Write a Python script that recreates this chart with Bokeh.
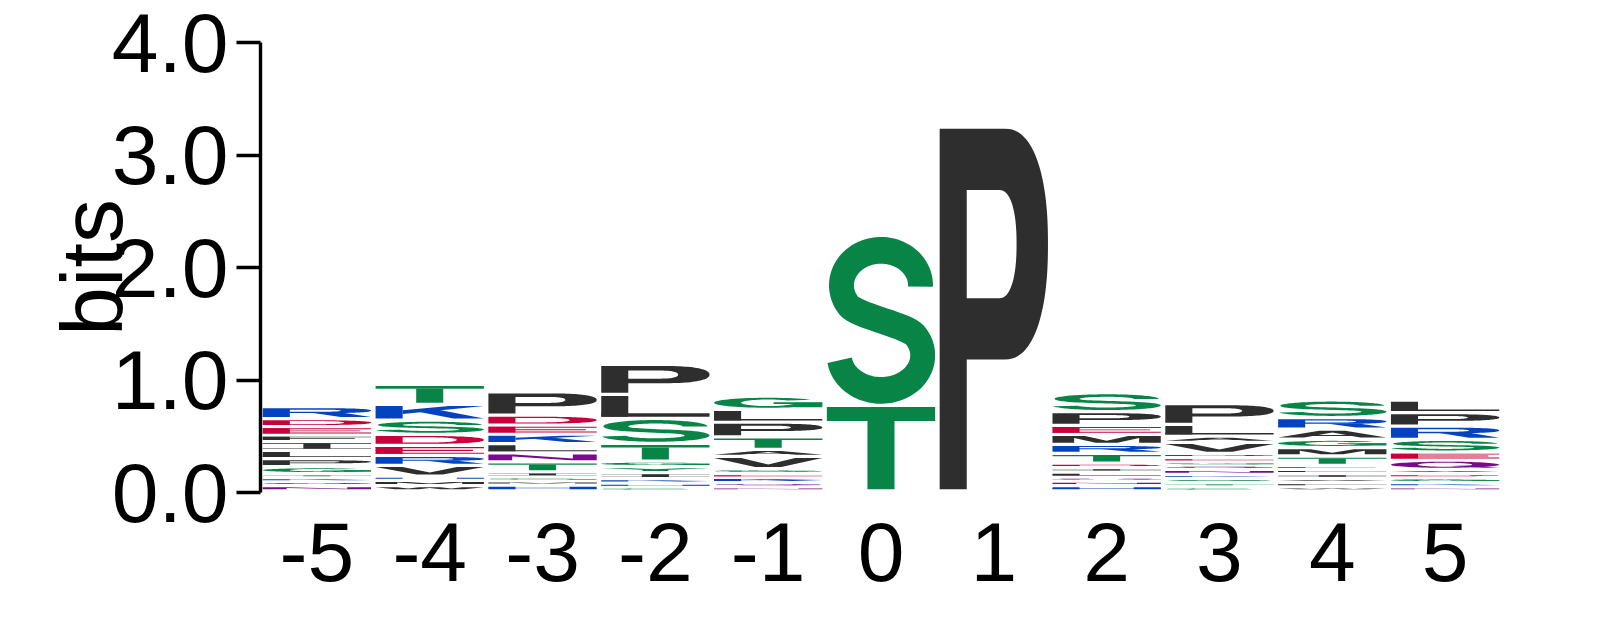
import numpy as np
from bokeh.plotting import figure
from bokeh.models import Range1d, FixedTicker, ColumnDataSource
from bokeh.embed import file_html
from bokeh.resources import INLINE

# ---------------- data ----------------
positions = [-5, -4, -3, -2, -1, 0, 1, 2, 3, 4, 5]
x_tick_labels = ["-5", "-4", "-3", "-2", "-1", "0", "1", "2", "3", "4", "5"]
y_ticks = [0, 1, 2, 3, 4]
y_tick_labels = ["0.0", "1.0", "2.0", "3.0", "4.0"]

# letter stacks, bottom to top, heights in bits
pos_m5_letters = ["N", "Q", "K", "T", "G", "P", "L", "I", "F", "E", "D", "R"]
pos_m5_bits = [0.046, 0.038, 0.033, 0.036, 0.062, 0.071, 0.074, 0.077, 0.059, 0.075, 0.071, 0.107]

pos_m4_letters = ["W", "M", "H", "V", "R", "E", "D", "S", "K", "T"]
pos_m4_bits = [0.047, 0.046, 0.038, 0.095, 0.089, 0.089, 0.098, 0.127, 0.140, 0.178]

pos_m3_letters = ["H", "M", "G", "I", "T", "N", "L", "K", "E", "D", "P"]
pos_m3_bits = [0.052, 0.036, 0.036, 0.044, 0.089, 0.080, 0.084, 0.083, 0.080, 0.089, 0.207]

pos_m2_letters = ["C", "H", "K", "I", "Y", "G", "T", "S", "L", "P"]
pos_m2_bits = [0.035, 0.034, 0.040, 0.053, 0.053, 0.050, 0.157, 0.222, 0.213, 0.267]

pos_m1_letters = ["N", "Q", "K", "E", "S", "V", "A", "T", "P", "L", "G"]
pos_m1_bits = [0.036, 0.037, 0.047, 0.033, 0.044, 0.109, 0.062, 0.113, 0.130, 0.113, 0.118]

pos_0_letters = ["T", "S"]
pos_0_bits = [0.760, 1.511]

pos_1_letters = ["P"]
pos_1_bits = [3.234]

pos_2_letters = ["H", "N", "Q", "L", "I", "D", "T", "R", "M", "E", "P", "S"]
pos_2_bits = [0.047, 0.040, 0.036, 0.044, 0.039, 0.041, 0.086, 0.080, 0.089, 0.080, 0.122, 0.169]

pos_3_letters = ["C", "T", "S", "K", "N", "Q", "G", "E", "D", "V", "A", "L", "P"]
pos_3_bits = [0.035, 0.038, 0.038, 0.036, 0.044, 0.038, 0.030, 0.036, 0.038, 0.098, 0.056, 0.104, 0.184]

pos_4_letters = ["W", "F", "V", "I", "L", "E", "T", "M", "G", "A", "R", "S"]
pos_4_bits = [0.036, 0.037, 0.038, 0.042, 0.038, 0.036, 0.083, 0.075, 0.074, 0.089, 0.104, 0.156]

pos_5_letters = ["N", "K", "G", "D", "A", "Q", "E", "S", "R", "P", "L"]
pos_5_bits = [0.036, 0.037, 0.044, 0.036, 0.038, 0.083, 0.071, 0.113, 0.118, 0.119, 0.112]

stack_letters = [pos_m5_letters, pos_m4_letters, pos_m3_letters, pos_m2_letters, pos_m1_letters,
                 pos_0_letters, pos_1_letters, pos_2_letters, pos_3_letters, pos_4_letters, pos_5_letters]
stack_bits = [pos_m5_bits, pos_m4_bits, pos_m3_bits, pos_m2_bits, pos_m1_bits,
              pos_0_bits, pos_1_bits, pos_2_bits, pos_3_bits, pos_4_bits, pos_5_bits]

# chemistry colour scheme
GREEN, PURPLE, BLUE, RED, BLACK = "#088446", "#7a0a8c", "#0443bf", "#c8003c", "#2e2e2e"
COLORS = {}
for ch in "GSTYC":
    COLORS[ch] = GREEN
for ch in "QN":
    COLORS[ch] = PURPLE
for ch in "KRH":
    COLORS[ch] = BLUE
for ch in "DE":
    COLORS[ch] = RED
for ch in "PAWFLIMV":
    COLORS[ch] = BLACK

# ---------------- letter outlines (unit box) ----------------
SW, BH = 0.25, 0.17


def rect(x0, y0, x1, y1):
    return [(x0, y0), (x1, y0), (x1, y1), (x0, y1)]


def sarea(r):
    a = 0.0
    for i in range(len(r)):
        x0, y0 = r[i]
        x1, y1 = r[(i + 1) % len(r)]
        a += x0 * y1 - x1 * y0
    return a / 2


def orient(r, ccw=True):
    r = list(r)
    if (sarea(r) > 0) != ccw:
        r = r[::-1]
    return r


def earc(cx, cy, rx, ry, a0, a1, n=48, e=2.0):
    t = np.radians(np.linspace(a0, a1, n))
    c, s = np.cos(t), np.sin(t)
    x = cx + rx * np.sign(c) * np.abs(c) ** (2.0 / e)
    y = cy + ry * np.sign(s) * np.abs(s) ** (2.0 / e)
    return list(zip(x, y))


def stroke(path, tx, ty):
    sc = np.array([tx, ty])
    P = np.array(path, dtype=float) / sc
    T = np.gradient(P, axis=0)
    L = np.hypot(T[:, 0], T[:, 1])
    L[L == 0] = 1
    N = np.stack([-T[:, 1] / L, T[:, 0] / L], axis=1)
    left = (P + 0.5 * N) * sc
    right = (P - 0.5 * N) * sc
    return list(map(tuple, left)) + list(map(tuple, right[::-1]))


def comp(ext, *holes):
    return [orient(ext, True)] + [orient(h, False) for h in holes]


def bezier(p0, p1, p2, p3, n=16):
    t = np.linspace(0, 1, n)[1:-1, None]
    p0, p1, p2, p3 = map(np.array, (p0, p1, p2, p3))
    pts = (1 - t) ** 3 * p0 + 3 * (1 - t) ** 2 * t * p1 + 3 * (1 - t) * t ** 2 * p2 + t ** 3 * p3
    return list(map(tuple, pts))


def s_shape():
    tx, ty = 0.23, 0.16
    rx_u, rx_l, ry = 0.5 - tx / 2 - 0.02, 0.5 - tx / 2, 0.21
    top_c = 1 - ty / 2 - ry
    bot_c = ty / 2 + ry
    a_up, a_lo = 215.0, 35.0
    up = earc(0.5, top_c, rx_u, ry, -2, a_up, 70)
    lo = earc(0.5, bot_c, rx_l, ry, a_lo, -172, 70)
    tu = np.array([-np.sin(np.radians(a_up)) * rx_u, np.cos(np.radians(a_up)) * ry])
    tu /= np.hypot(*tu)
    tl = np.array([np.sin(np.radians(a_lo)) * rx_l, -np.cos(np.radians(a_lo)) * ry])
    tl /= np.hypot(*tl)
    p0, p3 = np.array(up[-1]), np.array(lo[0])
    spine = bezier(p0, p0 + 0.1 * tu, p3 - 0.1 * tl, p3, 18)
    return stroke(up + spine + lo, tx, ty)


SHAPES = {
    "T": [comp(rect(0, 1 - BH, 1, 1)), comp(rect(0.5 - SW / 2, 0, 0.5 + SW / 2, 1 - BH + 0.002))],
    "L": [comp(rect(0, 0, SW, 1)), comp(rect(0, 0, 1, BH))],
    "I": [comp(rect(0, 1 - BH * 0.6, 1, 1)), comp(rect(0, 0, 1, BH * 0.6)),
          comp(rect(0.5 - SW / 2, 0, 0.5 + SW / 2, 1))],
    "F": [comp(rect(0, 0, SW, 1)), comp(rect(0, 1 - BH, 1, 1)), comp(rect(0, 0.42, 0.85, 0.42 + BH))],
    "E": [comp(rect(0, 0, SW, 1)), comp(rect(0, 1 - BH, 1, 1)), comp(rect(0, 0.42, 0.9, 0.42 + BH)),
          comp(rect(0, 0, 1, BH))],
    "H": [comp(rect(0, 0, SW, 1)), comp(rect(1 - SW, 0, 1, 1)), comp(rect(0, 0.42, 1, 0.42 + BH))],
    "K": [comp(rect(0, 0, SW, 1)),
          comp([(SW, 0.35), (1.0, 1.0), (0.68, 1.0), (SW, 0.66)]),
          comp([(0.38, 0.55), (0.72, 0.0), (1.0, 0.0), (0.58, 0.70)])],
    "M": [comp([(0, 0), (0.2, 0), (0.2, 0.72), (0.4, 0), (0.6, 0), (0.8, 0.72), (0.8, 0), (1, 0),
                (1, 1), (0.7, 1), (0.5, 0.3), (0.3, 1), (0, 1)])],
    "N": [comp([(0, 0), (0.22, 0), (0.22, 0.68), (0.76, 0), (1, 0), (1, 1), (0.78, 1), (0.78, 0.32),
                (0.24, 1), (0, 1)])],
    "V": [comp([(0, 1), (0.38, 0), (0.62, 0), (1, 1), (0.75, 1), (0.5, 0.28), (0.25, 1)])],
    "A": [comp([(0, 0), (0.24, 0), (0.32, 0.22), (0.68, 0.22), (0.76, 0), (1, 0), (0.62, 1), (0.38, 1)],
               [(0.37, 0.38), (0.5, 0.75), (0.63, 0.38)])],
    "W": [comp([(0, 1), (0.18, 0), (0.4, 0), (0.5, 0.6), (0.6, 0), (0.82, 0), (1, 1), (0.8, 1),
                (0.7, 0.35), (0.6, 1), (0.4, 1), (0.3, 0.35), (0.2, 1)])],
    "Y": [comp([(0, 1), (0.38, 0.45), (0.38, 0), (0.62, 0), (0.62, 0.45), (1, 1), (0.74, 1),
                (0.5, 0.67), (0.26, 1)])],
    "P": [comp([(0, 0), (SW, 0), (SW, 0.36)] + earc(0.6, 0.68, 0.4, 0.32, -90, 90, 48, 2.3) + [(0, 1)],
               [(SW, 0.53), (0.55, 0.53)] + earc(0.55, 0.68, 0.16, 0.15, -90, 90, 36, 2.3) + [(SW, 0.83)])],
    "R": [comp([(0, 0), (SW, 0), (SW, 0.45)] + earc(0.6, 0.725, 0.4, 0.275, -90, 90, 48, 2.3) + [(0, 1)],
               [(SW, 0.6), (0.55, 0.6)] + earc(0.55, 0.72, 0.17, 0.12, -90, 90, 36, 2.3) + [(SW, 0.84)]),
          comp([(0.45, 0.48), (0.72, 0.0), (1.0, 0.0), (0.74, 0.48)])],
    "D": [comp([(0, 0), (0.5, 0)] + earc(0.5, 0.5, 0.5, 0.5, -90, 90, 48, 2.3) + [(0, 1)],
               [(SW, BH), (0.5, BH)] + earc(0.5, 0.5, 0.5 - SW, 0.5 - BH, -90, 90, 48, 2.3) + [(SW, 1 - BH)])],
    "Q": [comp(earc(0.5, 0.5, 0.5, 0.5, 0, 360, 72), earc(0.5, 0.5, 0.5 - SW, 0.5 - BH, 0, 360, 72)),
          comp([(0.55, 0.3), (0.86, 0.0), (1.0, 0.05), (0.7, 0.38)])],
    "C": [comp(stroke(earc(0.5, 0.5, 0.5 - SW / 2, 0.5 - BH / 2, 40, 320, 60), SW, BH))],
    "G": [comp(stroke(earc(0.5, 0.5, 0.5 - SW / 2, 0.5 - BH / 2, 40, 352, 60), SW, BH)),
          comp(rect(0.55, 0.38, 1.0, 0.38 + BH)), comp(rect(1 - SW, 0.06, 1.0, 0.5))],
    "S": [comp(s_shape())],
}

# ---------------- build glyph data ----------------
W = 0.96      # letter width (fraction of column)
GAP = 0.029   # blank space under each letter (bits)
xs, ys, cols = [], [], []
for k, letters, bits in zip(positions, stack_letters, stack_bits):
    y0 = 0.0
    for L, h in zip(letters, bits):
        gh = max(h - GAP, 0.008)
        yb = y0 + h - gh
        for c in SHAPES[L]:
            xs.append([[[k - W / 2 + u * W for (u, v) in ring] for ring in c]])
            ys.append([[[yb + v * gh for (u, v) in ring] for ring in c]])
            cols.append(COLORS[L])
        y0 += h

src = ColumnDataSource(dict(xs=xs, ys=ys, color=cols))

p = figure(x_range=Range1d(-5.5, 5.5), y_range=Range1d(0, 4),
           frame_width=1241, frame_height=450,
           min_border_left=260, min_border_top=42, min_border_right=20, min_border_bottom=118,
           output_backend="svg", toolbar_location=None)
p.multi_polygons(xs="xs", ys="ys", source=src, fill_color="color", line_color=None)

p.grid.visible = False
p.outline_line_color = None
p.background_fill_color = "white"
p.border_fill_color = "white"

FONT = "Liberation Sans"
yax = p.yaxis[0]
yax.ticker = FixedTicker(ticks=y_ticks)
yax.major_label_overrides = {t: s for t, s in zip(y_ticks, y_tick_labels)}
yax.axis_line_width = 3.4
yax.axis_line_color = "black"
yax.major_tick_line_width = 3.4
yax.major_tick_line_color = "black"
yax.major_tick_out = 24
yax.major_tick_in = 0
yax.minor_tick_line_color = None
yax.major_label_text_font = FONT
yax.major_label_text_font_size = "84px"
yax.major_label_text_color = "black"
yax.major_label_standoff = 8
yax.axis_label = "bits"
yax.axis_label_text_font = FONT
yax.axis_label_text_font_size = "88px"
yax.axis_label_text_font_style = "normal"
yax.axis_label_text_color = "black"
yax.axis_label_standoff = -32

xax = p.xaxis[0]
xax.ticker = FixedTicker(ticks=positions)
xax.major_label_overrides = {t: s for t, s in zip(positions, x_tick_labels)}
xax.axis_line_color = None
xax.major_tick_line_color = None
xax.minor_tick_line_color = None
xax.major_label_text_font = FONT
xax.major_label_text_font_size = "84px"
xax.major_label_text_color = "black"
xax.major_label_standoff = 24

open("out.html", "w").write(file_html(p, INLINE))
